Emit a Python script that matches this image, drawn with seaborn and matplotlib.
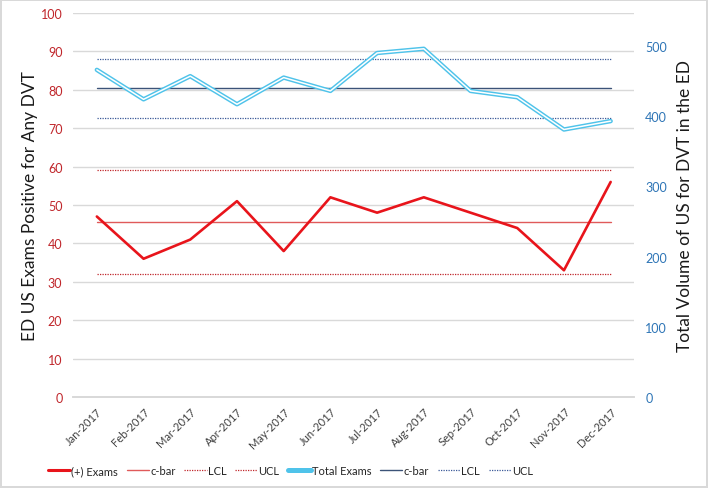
import numpy as np
import pandas as pd
import matplotlib
matplotlib.use("Agg")
import matplotlib.pyplot as plt
from matplotlib.lines import Line2D
import seaborn as sns

# data
months = ["Jan-2017", "Feb-2017", "Mar-2017", "Apr-2017", "May-2017", "Jun-2017",
          "Jul-2017", "Aug-2017", "Sep-2017", "Oct-2017", "Nov-2017", "Dec-2017"]
positive_exams = [47, 36, 41, 51, 38, 52, 48, 52, 48, 44, 33, 56]
total_exams = [466, 424, 457, 417, 455, 436, 490, 496, 436, 427, 381, 393]

left_ticks = list(range(0, 101, 10))
right_ticks = list(range(0, 501, 100))

sns.set_theme(style="white")
plt.rcParams["font.family"] = ["Lato", "DejaVu Sans"]

RED = "#E8141B"
RED_CBAR = "#E05A5A"
RED_LIM = "#C0262B"
BLUE = "#4FC3EA"
NAVY = "#3C5378"
BLUE_LIM = "#3B5998"
GRID = "#D9D9D9"

df = pd.DataFrame({"x": np.arange(len(months)), "pos": positive_exams, "tot": total_exams})

# c-chart centre line and 2-sigma limits
cbar_r = df["pos"].mean()
cbar_b = df["tot"].mean()
df["cbar_r"] = cbar_r
df["ucl_r"] = cbar_r + 2 * np.sqrt(cbar_r)
df["lcl_r"] = cbar_r - 2 * np.sqrt(cbar_r)
df["cbar_b"] = cbar_b
df["ucl_b"] = cbar_b + 2 * np.sqrt(cbar_b)
df["lcl_b"] = cbar_b - 2 * np.sqrt(cbar_b)

fig = plt.figure(figsize=(7.08, 4.89), dpi=100)
ax = fig.add_axes([0.1038, 0.1861, 0.7917, 0.7853])
ax2 = ax.twinx()

dot = (0, (1, 1))

# left axis (red)
sns.lineplot(data=df, x="x", y="cbar_r", ax=ax, color=RED_CBAR, lw=1.0, zorder=3)
sns.lineplot(data=df, x="x", y="lcl_r", ax=ax, color=RED_LIM, lw=0.9, ls=dot, zorder=3)
sns.lineplot(data=df, x="x", y="ucl_r", ax=ax, color=RED_LIM, lw=0.9, ls=dot, zorder=3)
sns.lineplot(data=df, x="x", y="pos", ax=ax, color=RED, lw=1.9, zorder=4)

# right axis (blue)
sns.lineplot(data=df, x="x", y="cbar_b", ax=ax2, color=NAVY, lw=1.0)
sns.lineplot(data=df, x="x", y="lcl_b", ax=ax2, color=BLUE_LIM, lw=0.9, ls=dot)
sns.lineplot(data=df, x="x", y="ucl_b", ax=ax2, color=BLUE_LIM, lw=0.9, ls=dot)
sns.lineplot(data=df, x="x", y="tot", ax=ax2, color=BLUE, lw=3.2)
sns.lineplot(data=df, x="x", y="tot", ax=ax2, color="white", lw=1.1)

ax.set_xlim(-0.5, len(months) - 0.5)
ax.set_ylim(0, 100)
ax2.set_ylim(0, 547)
ax.set_yticks(left_ticks)
ax2.set_yticks(right_ticks)
ax.yaxis.grid(True, color=GRID, lw=1.0)
ax.set_axisbelow(True)

ax.set_xticks(np.arange(len(months)))
ax.set_xticklabels(months, rotation=45, ha="right", rotation_mode="anchor", fontsize=8, color="#404040")
ax.set_xticks(np.arange(-0.5, len(months)), minor=True)
ax.tick_params(axis="x", which="major", length=0, pad=6)
ax.tick_params(axis="x", which="minor", length=5, color=GRID, width=1.0, direction="out")
ax.tick_params(axis="y", length=0, labelsize=9, labelcolor="#C0262B", pad=8)
ax2.tick_params(axis="y", length=0, labelsize=9, labelcolor="#2E75B6", pad=8)

for a in (ax, ax2):
    for s in ("left", "right", "top"):
        a.spines[s].set_visible(False)
    a.spines["bottom"].set_color(GRID)
    a.set_xlabel("")
ax.set_ylabel("ED US Exams Positive for Any DVT", fontsize=12.5, color="#1a1a1a", labelpad=2)
ax2.set_ylabel("Total Volume of US for DVT in the ED", fontsize=12.5, color="#1a1a1a", labelpad=7)

handles = [
    Line2D([], [], color=RED, lw=2.2),
    Line2D([], [], color=RED_CBAR, lw=1.0),
    Line2D([], [], color=RED_LIM, lw=0.9, ls=dot),
    Line2D([], [], color=RED_LIM, lw=0.9, ls=dot),
    Line2D([], [], color=BLUE, lw=3.6),
    Line2D([], [], color=NAVY, lw=1.0),
    Line2D([], [], color=BLUE_LIM, lw=0.9, ls=dot),
    Line2D([], [], color=BLUE_LIM, lw=0.9, ls=dot),
]
labels = ["(+) Exams", "c-bar", "LCL", "UCL", "Total Exams", "c-bar", "LCL", "UCL"]
fig.legend(handles, labels, loc="center", bbox_to_anchor=(0.41, 0.035), ncol=8, frameon=False,
           fontsize=8, handlelength=2.0, handletextpad=0.1, columnspacing=0.8)

fig.patch.set_edgecolor("#D9D9D9")
fig.patch.set_linewidth(1.5)
fig.savefig("out.png", dpi=100, edgecolor=fig.get_edgecolor())
